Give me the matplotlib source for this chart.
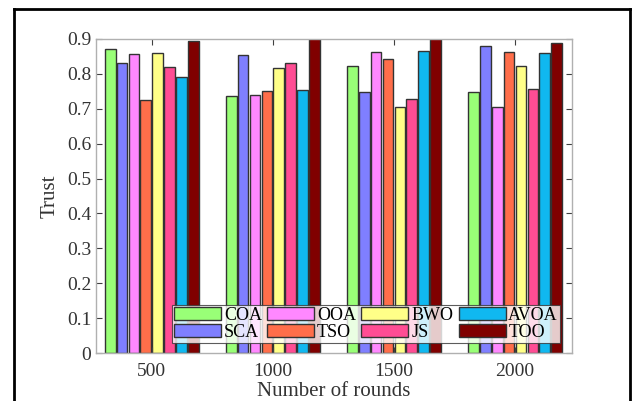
import numpy as np
import matplotlib.pyplot as plt
from matplotlib.lines import Line2D

plt.rcParams['font.family'] = ['Liberation Serif', 'DejaVu Serif']

rounds = ['500', '1000', '1500', '2000']
methods = ['COA', 'SCA', 'OOA', 'TSO', 'BWO', 'JS', 'AVOA', 'TOO']
colors = ['#99ff77', '#7f7fff', '#ff88ff', '#ff6e4a', '#ffff88', '#ff4d94', '#10b8f0', '#800000']

coa = [0.872, 0.737, 0.822, 0.749]
sca = [0.831, 0.855, 0.749, 0.881]
ooa = [0.858, 0.740, 0.864, 0.705]
tso = [0.724, 0.752, 0.843, 0.864]
bwo = [0.859, 0.818, 0.706, 0.822]
js = [0.820, 0.832, 0.727, 0.757]
avoa = [0.790, 0.755, 0.866, 0.859]
too = [0.894, 0.930, 0.920, 0.889]
series = [coa, sca, ooa, tso, bwo, js, avoa, too]

fig = plt.figure(figsize=(6.32, 4.01), dpi=100)
ax = fig.add_axes([96/632, 1-353/401, 476/632, 314/401])

ind = np.arange(1, len(rounds)+1)
pitch = 0.098
width = 0.088
bars = []
for i, vals in enumerate(series):
    off = (i - 3.5) * pitch
    b = ax.bar(ind + off, vals, width, color=colors[i], edgecolor='#333333', linewidth=1.0)
    bars.append(b)

ax.set_xlim(0.54, 4.47)
ax.set_ylim(0, 0.9)
ax.set_xticks(ind)
ax.set_xticklabels(rounds)
ax.set_yticks(np.arange(0, 0.91, 0.1))
ax.set_yticklabels(['0'] + ['%.1f' % v for v in np.arange(0.1, 0.91, 0.1)])
ax.tick_params(direction='in', top=True, right=True, labelsize=14, colors='#404040',
               length=4, width=0.8)
ax.tick_params(axis='x', pad=7)
for tl in ax.get_xticklabels() + ax.get_yticklabels():
    tl.set_color('#333333')
for s in ax.spines.values():
    s.set_color('#b0b0b0')
    s.set_linewidth(1.0)
ax.set_xlabel('Number of rounds', fontsize=15, color='#333333', labelpad=2)
ax.set_ylabel('Trust', fontsize=15, color='#333333', labelpad=5)

leg = ax.legend([b[0] for b in bars], methods, ncol=4, loc='lower right',
                bbox_to_anchor=(560/632, 1-343/401), bbox_transform=fig.transFigure,
                fontsize=13, frameon=True, fancybox=False,
                handlelength=2.6, handleheight=0.7, handletextpad=0.15, columnspacing=0.3,
                labelspacing=0.0, borderpad=0.12, borderaxespad=0.0)
leg.get_frame().set_edgecolor('#333333')
leg.get_frame().set_linewidth(0.8)

# outer frame around the figure
fig.add_artist(Line2D([14/632, 14/632], [0, 1-9/401], color='black', lw=2, transform=fig.transFigure))
fig.add_artist(Line2D([14/632, 630/632], [1-9/401, 1-9/401], color='black', lw=2, transform=fig.transFigure))
fig.add_artist(Line2D([630/632, 630/632], [0, 1-9/401], color='black', lw=2, transform=fig.transFigure))

fig.savefig('out.png', dpi=100)
